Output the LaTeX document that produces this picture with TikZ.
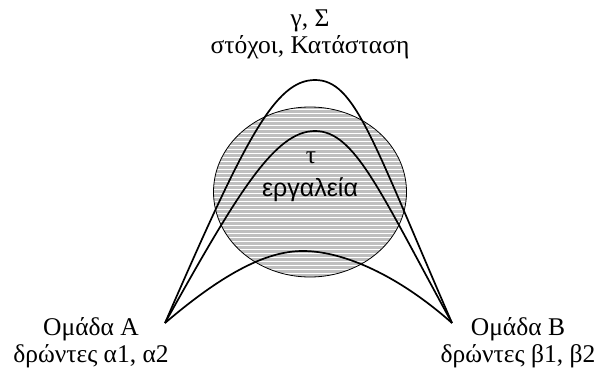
\documentclass[tikz,border=0pt]{standalone}
\usepackage{fontspec}
\setmainfont{Liberation Serif}
\newfontfamily\toolfont{Liberation Sans}
\usetikzlibrary{shapes.geometric}

\begin{document}
\begin{tikzpicture}[
  x=1pt,y=-1pt,
  font=\fontsize{25.5}{27}\selectfont,
  caption/.style={
    align=center,
    anchor=base,
    inner sep=0pt
  },
  tools/.style={
    ellipse,
    draw=black,
    line width=0.8pt,
    fill=black!25,
    inner sep=0pt,
    minimum width=193pt,
    minimum height=170pt,
    path picture={
      \foreach \k in {0,...,44}
        \draw[white,line width=1pt]
          ([yshift=-2pt-4*\k pt]path picture bounding box.north west) --
          ([yshift=-2pt-4*\k pt]path picture bounding box.north east);
    }
  },
  arch/.style={draw=black,line width=1.7pt,line join=round}
]
  \useasboundingbox (0,0) rectangle (607,369);

  % Shared tools in the middle.
  \node[tools] (tools) at (310,192) {};
  \node[caption] (tau) at (311,163) {τ};
  \node[caption,font=\toolfont\fontsize{25}{27}\selectfont] (toolname)
    at (310,196) {εργαλεία};

  % Goals at the top, the two groups at the bottom corners
  % (a multi-line node sits on the baseline of its last line).
  \node[caption] (goals) at (310,53) {γ, Σ\\στόχοι, Κατάσταση};
  \node[caption] (groupA) at (91,362) {Ομάδα Α\\δρώντες α1, α2};
  \node[caption] (groupB) at (518,362) {Ομάδα Β\\δρώντες β1, β2};

  \coordinate (A) at (165,323);
  \coordinate (B) at (452,323);
  \coordinate (outertop) at (315,80);
  \coordinate (innertop) at (315,131);
  \coordinate (lowtop) at (303,251);

  % Three arches from group to group.
  \draw[arch] (A) .. controls (245,139) and (275,80) .. (outertop)
    .. controls (355,80) and (372,139) .. (B);
  \draw[arch] (A) .. controls (238,192) and (275,131) .. (innertop)
    .. controls (355,131) and (380,192) .. (B);
  \draw[arch] (A) .. controls (226,271) and (268,251) .. (lowtop)
    .. controls (338,251) and (392,270) .. (B);
\end{tikzpicture}
\end{document}
